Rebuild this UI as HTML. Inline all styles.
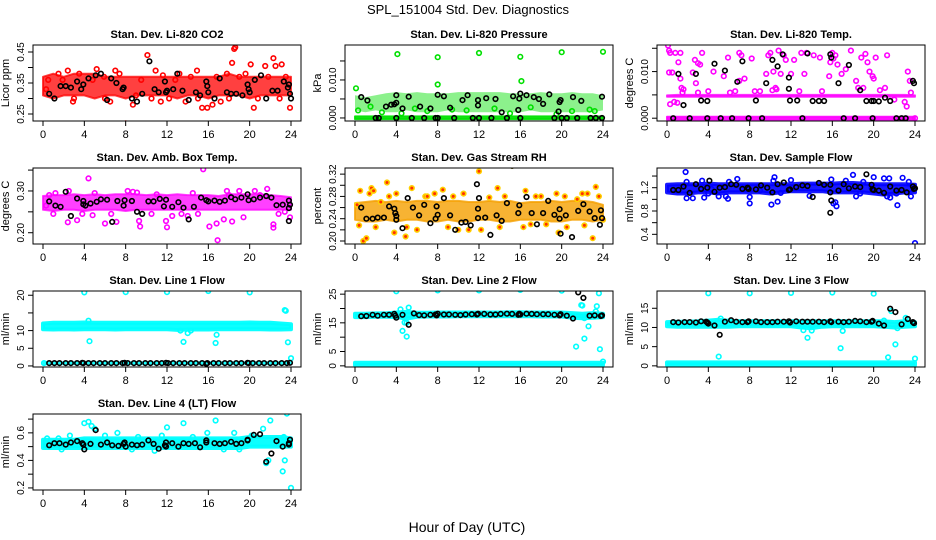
<!DOCTYPE html>
<html><head><meta charset="utf-8"><title>SPL_151004 Std. Dev. Diagnostics</title>
<style>
html,body{margin:0;padding:0;background:#fff;}
svg{display:block;font-family:"Liberation Sans",sans-serif;}
</style></head>
<body>
<svg id="chart" width="936" height="540" viewBox="0 0 936 540" xmlns="http://www.w3.org/2000/svg">
<text x="468" y="14" font-size="13" text-anchor="middle">SPL_151004  Std. Dev. Diagnostics</text>
<text x="467" y="532" font-size="14" text-anchor="middle">Hour of Day (UTC)</text>
</svg>
<script>
const HOURS=[0,1,2,3,4,5,6,7,8,9,10,11,12,13,14,15,16,17,18,19,20,21,22,23,24];
const X_TICKS=[0,4,8,12,16,20,24];

// Panel 1: CO2
const co2_band_lo=[0.31,0.30,0.31,0.31,0.31,0.30,0.31,0.31,0.30,0.31,0.31,0.31,0.31,0.30,0.31,0.31,0.30,0.31,0.31,0.31,0.30,0.31,0.31,0.31,0.31];
const co2_band_hi=[0.37,0.38,0.37,0.38,0.38,0.38,0.37,0.37,0.37,0.37,0.37,0.37,0.37,0.37,0.37,0.37,0.37,0.37,0.38,0.37,0.37,0.37,0.37,0.37,0.37];
const co2_red=[[1.5,0.38],[1.9,0.36],[2.4,0.39],[3.5,0.38],[5.2,0.395],[7.4,0.38],[8.0,0.22],[8.7,0.28],[10.1,0.44],[10.9,0.39],[11.4,0.29],[14.9,0.39],[15.4,0.27],[15.9,0.27],[16.4,0.28],[17.8,0.38],[18.3,0.415],[18.5,0.46],[18.6,0.465],[19.6,0.38],[20.1,0.41],[20.4,0.27],[21.5,0.405],[22.3,0.43],[22.5,0.405],[23.1,0.41],[23.9,0.27],[0.3,0.33],[6.5,0.29],[9.0,0.31],[12.8,0.36],[13.8,0.29],[17.2,0.29],[19.0,0.37],[21.8,0.37],[2.9,0.29],[4.8,0.36],[5.9,0.37],[11.6,0.375],[14.3,0.37],[0.5,0.36],[3.0,0.30],[6.0,0.30],[7.0,0.39],[9.5,0.36],[10.5,0.30],[12.2,0.30],[13.2,0.38],[15.0,0.30],[16.8,0.37],[18.0,0.30],[20.8,0.30],[22.9,0.30],[23.5,0.37]];
const co2_black=[[0.6,0.315],[1.1,0.30],[1.7,0.34],[2.2,0.34],[2.7,0.335],[3.3,0.355],[3.7,0.33],[3.9,0.345],[4.4,0.365],[5.1,0.375],[5.6,0.38],[6.2,0.295],[6.6,0.365],[7.1,0.35],[7.7,0.33],[7.8,0.335],[8.6,0.30],[9.1,0.29],[9.6,0.315],[10.3,0.42],[10.8,0.33],[11.2,0.32],[11.8,0.355],[11.9,0.32],[12.0,0.325],[12.6,0.33],[13.0,0.38],[13.5,0.325],[14.1,0.295],[14.8,0.32],[15.2,0.31],[15.8,0.355],[15.9,0.34],[16.0,0.32],[16.6,0.30],[17.1,0.365],[17.8,0.32],[18.2,0.315],[18.7,0.315],[19.3,0.31],[19.8,0.345],[19.9,0.33],[20.0,0.32],[20.5,0.36],[21.1,0.375],[21.6,0.30],[22.2,0.325],[22.7,0.325],[23.3,0.355],[23.7,0.335],[23.8,0.345],[23.9,0.315],[24.0,0.30]];

// Panel 2: Pressure
const prs_band0_lo=[-0.0003,-0.0003,-0.0003,-0.0003,-0.0003,-0.0003,-0.0003,-0.0003,-0.0003,-0.0003,-0.0003,-0.0003,-0.0003,-0.0003,-0.0003,-0.0003,-0.0003,-0.0003,-0.0003,-0.0003,-0.0003,-0.0003,-0.0003,-0.0003,-0.0003];
const prs_band0_hi=[0.0004,0.0004,0.0004,0.0004,0.0004,0.0004,0.0004,0.0004,0.0004,0.0004,0.0004,0.0004,0.0004,0.0004,0.0004,0.0004,0.0004,0.0004,0.0004,0.0004,0.0004,0.0004,0.0004,0.0004,0.0004];
const prs_band_lo=[0.0020,0.0015,0.0020,0.0015,0.0015,0.0020,0.0015,0.0015,0.0015,0.0020,0.0015,0.0015,0.0015,0.0015,0.0015,0.0015,0.0015,0.0020,0.0015,0.0015,0.0015,0.0015,0.0015,0.0015,0.0020];
const prs_band_hi=[0.0060,0.0055,0.0060,0.0065,0.0068,0.0065,0.0068,0.0065,0.0065,0.0065,0.0068,0.0068,0.0068,0.0068,0.0068,0.0065,0.0065,0.0065,0.0068,0.0065,0.0065,0.0068,0.0065,0.0065,0.0060];
const prs_green=[[4.1,0.0168],[8.0,0.0160],[12.0,0.0171],[16.0,0.0161],[20.0,0.0173],[24.0,0.0174],[0.1,0.0078],[8.0,0.0088],[16.1,0.0097],[0.3,0.0020],[1.5,0.0030],[2.6,0.0015],[4.5,0.0012],[5.8,0.0025],[7.0,0.0018],[9.4,0.0022],[10.8,0.0020],[13.5,0.0025],[15.0,0.0012],[17.0,0.0028],[19.5,0.0010],[21.0,0.0018],[22.7,0.0022],[23.2,0.0018]];
const prs_black=[[0.6,0.0055],[1.2,0.0046],[2.0,0.0],[2.3,0.0],[3.0,0.0030],[3.5,0.0035],[3.8,0.0036],[4.0,0.0040],[4.0,0.0060],[4.0,0.0],[4.6,0.0025],[5.2,0.0056],[5.5,0.0],[6.3,0.0030],[6.7,0.0],[7.3,0.0025],[7.8,0.0],[8.0,0.0],[8.0,0.0061],[8.6,0.0057],[9.2,0.0027],[9.6,0.0],[10.4,0.0047],[10.9,0.0060],[11.4,0.0],[11.9,0.0047],[11.9,0.0033],[12.0,0.0],[12.7,0.0052],[13.2,0.0],[13.6,0.0050],[14.2,0.0015],[14.7,0.0],[15.3,0.0057],[15.8,0.0021],[16.0,0.0064],[15.9,0.0051],[16.0,0.0],[16.6,0.0060],[17.3,0.0055],[17.8,0.0050],[18.2,0.0037],[18.8,0.0062],[19.3,0.0],[19.7,0.0017],[19.8,0.0042],[19.9,0.0047],[20.0,0.0],[20.5,0.0],[21.1,0.0055],[21.5,0.0],[21.9,0.0045],[22.8,0.0],[23.3,0.0],[23.9,0.0],[23.9,0.0056]];

// Panel 3: Li-820 Temp
const tmp_band0_lo=[-0.0003,-0.0003,-0.0003,-0.0003,-0.0003,-0.0003,-0.0003,-0.0003,-0.0003,-0.0003,-0.0003,-0.0003,-0.0003,-0.0003,-0.0003,-0.0003,-0.0003,-0.0003,-0.0003,-0.0003,-0.0003,-0.0003,-0.0003,-0.0003,-0.0003];
const tmp_band0_hi=[0.0003,0.0003,0.0003,0.0003,0.0003,0.0003,0.0003,0.0003,0.0003,0.0003,0.0003,0.0003,0.0003,0.0003,0.0003,0.0003,0.0003,0.0003,0.0003,0.0003,0.0003,0.0003,0.0003,0.0003,0.0003];
const tmp_band_lo=[0.0046,0.0046,0.0046,0.0046,0.0046,0.0046,0.0046,0.0046,0.0046,0.0046,0.0046,0.0046,0.0046,0.0046,0.0046,0.0046,0.0046,0.0046,0.0046,0.0046,0.0046,0.0046,0.0046,0.0046,0.0046];
const tmp_band_hi=[0.0049,0.0050,0.0050,0.0050,0.0050,0.0050,0.0050,0.0050,0.0050,0.0050,0.0050,0.0050,0.0050,0.0050,0.0050,0.0050,0.0050,0.0050,0.0050,0.0050,0.0050,0.0050,0.0050,0.0050,0.0049];
const tmp_mag=[[0.1,0.0156],[0.2,0.0145],[0.3,0.0140],[0.2,0.0098],[0.5,0.0098],[0.8,0.0140],[1.3,0.0140],[1.1,0.0120],[1.3,0.0085],[1.4,0.0065],[1.6,0.0062],[1.5,0.0055],[2.5,0.0098],[2.8,0.0075],[2.7,0.0125],[3.0,0.0118],[3.2,0.0115],[3.4,0.0140],[3.0,0.0055],[4.0,0.0058],[4.5,0.0100],[5.5,0.0090],[5.9,0.0130],[6.1,0.0055],[6.6,0.0058],[7.0,0.0140],[7.2,0.0135],[7.0,0.0080],[7.5,0.0085],[8.2,0.0128],[8.5,0.0058],[9.0,0.0058],[9.6,0.0095],[9.8,0.0135],[10.0,0.0140],[10.3,0.0100],[10.5,0.0065],[10.8,0.0145],[11.0,0.0095],[11.5,0.0125],[12.0,0.0095],[12.3,0.0125],[12.8,0.0058],[13.3,0.0095],[13.5,0.0140],[14.2,0.0135],[14.8,0.0130],[15.0,0.0058],[15.7,0.0090],[16.3,0.0135],[16.5,0.0115],[16.9,0.0095],[17.3,0.0105],[17.8,0.0145],[18.3,0.0080],[18.8,0.0130],[19.2,0.0138],[19.4,0.0120],[19.6,0.0100],[19.9,0.0090],[20.2,0.0130],[20.6,0.0060],[21.1,0.0065],[21.3,0.0135],[22.0,0.0040],[23.0,0.0035],[23.3,0.0100],[23.5,0.0080],[23.6,0.0055],[23.2,0.0025],[24.0,0.0],[0.3,0.0030],[0.7,0.0035],[1.0,0.0033],[10.2,0.0060],[10.6,0.0062],[11.3,0.0135],[13.0,0.0140],[15.8,0.0120],[16.0,0.0140],[16.1,0.0128],[19.0,0.0065],[18.5,0.0065],[20.0,0.0085]];
const tmp_black=[[0.6,0.0],[1.1,0.0095],[1.6,0.0028],[2.2,0.0],[2.8,0.0095],[3.3,0.0038],[3.9,0.0037],[3.9,0.0],[4.6,0.0117],[5.2,0.0],[5.6,0.0102],[6.3,0.0],[6.8,0.0078],[7.3,0.0122],[7.9,0.0],[8.6,0.0038],[9.2,0.0],[9.6,0.0075],[10.2,0.0125],[10.7,0.0111],[11.2,0.0137],[11.8,0.0087],[11.8,0.0063],[11.9,0.0038],[12.6,0.0038],[13.1,0.0],[13.6,0.0139],[14.1,0.0037],[14.7,0.0037],[15.2,0.0037],[15.8,0.0137],[15.9,0.0130],[16.6,0.0075],[17.1,0.0],[17.6,0.0114],[18.2,0.0],[18.7,0.0060],[19.3,0.0037],[19.8,0.0037],[19.9,0.0],[20.0,0.0037],[20.5,0.0036],[21.1,0.0044],[21.6,0.0037],[22.2,0.0],[22.7,0.0],[23.1,0.0],[23.8,0.0080],[23.9,0.0075]];

// Panel 4: Amb Box Temp
const amb_band_lo=[0.255,0.252,0.255,0.255,0.252,0.255,0.255,0.255,0.252,0.255,0.255,0.255,0.255,0.255,0.255,0.255,0.255,0.255,0.255,0.255,0.255,0.255,0.255,0.255,0.255];
const amb_band_hi=[0.288,0.290,0.290,0.292,0.290,0.292,0.290,0.292,0.292,0.292,0.290,0.292,0.290,0.292,0.290,0.290,0.290,0.288,0.292,0.292,0.292,0.292,0.290,0.288,0.285];
const amb_mag=[[4.4,0.330],[15.5,0.352],[16.9,0.182],[21.7,0.305],[2.5,0.30],[0.6,0.29],[1.2,0.295],[5.0,0.295],[9.1,0.296],[9.4,0.215],[9.3,0.228],[6.0,0.222],[7.1,0.226],[11.9,0.228],[12.0,0.213],[16.1,0.215],[16.8,0.222],[17.5,0.232],[18.3,0.227],[22.3,0.220],[22.3,0.212],[23.9,0.237],[2.4,0.225],[3.3,0.230],[14.0,0.240],[15.0,0.245],[19.4,0.237],[20.5,0.300],[1.0,0.245],[4.8,0.242],[10.5,0.245],[12.5,0.24],[13.4,0.245],[17.8,0.30],[18.0,0.29],[21.0,0.29],[11.0,0.292],[8.7,0.298],[0.3,0.265],[3.8,0.245],[6.6,0.245],[8.2,0.30],[14.5,0.295],[19.0,0.30],[22.8,0.245],[23.4,0.25]];
const amb_black=[[0.6,0.275],[1.2,0.265],[1.7,0.262],[2.2,0.298],[2.7,0.24],[3.3,0.282],[3.9,0.276],[3.9,0.268],[4.1,0.265],[4.6,0.27],[5.2,0.274],[5.6,0.28],[6.2,0.279],[6.7,0.226],[7.2,0.276],[7.8,0.265],[7.9,0.278],[8.6,0.276],[9.1,0.25],[9.6,0.245],[10.2,0.275],[10.7,0.275],[11.3,0.281],[11.7,0.263],[11.9,0.279],[12.5,0.262],[13.1,0.273],[13.6,0.26],[14.1,0.232],[14.6,0.262],[15.3,0.284],[15.8,0.278],[16.0,0.275],[16.6,0.277],[17.1,0.274],[17.6,0.277],[18.2,0.285],[18.6,0.28],[19.2,0.284],[19.8,0.292],[19.9,0.278],[20.4,0.28],[21.0,0.284],[21.6,0.288],[22.1,0.284],[22.6,0.266],[23.2,0.267],[23.8,0.277],[23.8,0.259],[23.9,0.267],[23.8,0.228]];

// Panel 5: Gas Stream RH
const rh_band_lo=[0.238,0.235,0.235,0.238,0.235,0.238,0.238,0.235,0.235,0.238,0.235,0.235,0.238,0.238,0.235,0.235,0.238,0.238,0.238,0.235,0.235,0.238,0.238,0.235,0.238];
const rh_band_hi=[0.268,0.270,0.272,0.270,0.272,0.270,0.272,0.272,0.270,0.272,0.272,0.270,0.270,0.272,0.270,0.272,0.268,0.270,0.270,0.272,0.270,0.272,0.272,0.270,0.265];
const rh_pts=[[0.2,0.265],[0.5,0.29],[0.8,0.20],[1.1,0.205],[1.4,0.285],[1.6,0.295],[1.8,0.29],[3.1,0.305],[3.3,0.280],[3.8,0.215],[4.0,0.285],[4.9,0.208],[5.5,0.295],[6.8,0.28],[7.7,0.285],[8.5,0.292],[9.5,0.28],[10.0,0.22],[10.5,0.285],[11.0,0.22],[12.0,0.325],[13.0,0.278],[13.8,0.295],[14.5,0.28],[15.2,0.335],[16.5,0.29],[17.5,0.28],[18.0,0.28],[19.5,0.285],[19.7,0.215],[20.3,0.28],[21.5,0.275],[22.0,0.285],[22.5,0.285],[23.0,0.205],[23.3,0.297],[23.6,0.28],[24.0,0.238],[2.5,0.27],[6.0,0.22],[12.2,0.22],[16.3,0.225],[18.5,0.23],[0.4,0.228],[2.0,0.225],[5.0,0.225],[7.0,0.28],[9.0,0.225],[14.0,0.225],[17.0,0.23],[20.5,0.225],[22.2,0.228]];
const rh_black=[[0.6,0.26],[1.1,0.24],[1.7,0.24],[2.2,0.242],[2.8,0.242],[3.3,0.262],[3.8,0.258],[3.9,0.25],[4.0,0.238],[4.0,0.245],[4.6,0.223],[5.1,0.277],[5.6,0.26],[6.2,0.246],[6.7,0.265],[7.3,0.232],[7.8,0.24],[7.9,0.262],[8.0,0.247],[8.6,0.277],[9.2,0.246],[9.7,0.22],[10.3,0.233],[10.7,0.234],[11.2,0.228],[11.8,0.302],[11.9,0.241],[11.9,0.258],[12.0,0.277],[12.6,0.242],[13.1,0.211],[13.7,0.246],[14.2,0.236],[14.7,0.268],[15.2,0.335],[15.8,0.25],[15.9,0.264],[16.6,0.279],[17.1,0.25],[17.6,0.23],[18.2,0.25],[18.7,0.272],[19.3,0.247],[19.8,0.24],[19.8,0.257],[19.9,0.213],[20.4,0.246],[21.0,0.207],[21.6,0.254],[22.1,0.266],[22.7,0.253],[23.2,0.241],[23.7,0.229],[23.8,0.255],[23.9,0.241]];

// Panel 6: Sample Flow
const smp_band_lo=[1.12,1.10,1.10,1.12,1.12,1.10,1.12,1.12,1.12,1.12,1.10,1.12,1.14,1.14,1.14,1.14,1.12,1.12,1.12,1.12,1.10,1.08,1.10,1.12,1.12];
const smp_band_hi=[1.25,1.26,1.26,1.26,1.27,1.26,1.26,1.26,1.26,1.26,1.26,1.26,1.26,1.27,1.27,1.27,1.27,1.28,1.28,1.27,1.26,1.26,1.26,1.26,1.25];
const smp_blue=[[1.8,1.47],[1.9,1.30],[1.9,1.02],[2.5,1.02],[3.4,1.32],[3.6,1.03],[4.0,1.10],[4.3,1.18],[5.0,1.05],[5.7,1.05],[5.9,1.01],[6.0,1.30],[6.8,1.35],[8.0,1.04],[8.0,0.93],[9.0,1.15],[10.1,0.91],[10.3,1.32],[10.4,1.38],[10.7,0.96],[11.0,1.11],[12.0,1.33],[13.8,1.06],[15.9,1.34],[16.3,0.95],[16.4,0.88],[17.3,1.32],[18.0,1.42],[18.3,1.05],[18.7,1.10],[19.0,1.30],[19.8,1.20],[20.0,1.38],[21.0,1.36],[21.3,1.05],[21.5,1.36],[22.2,1.10],[22.3,0.90],[22.8,1.37],[23.6,1.05],[24.0,0.25],[23.4,1.30],[16.1,0.93],[21.6,1.03]];
const smp_black=[[0.6,1.16],[1.1,1.16],[1.6,1.22],[2.2,1.11],[2.8,1.26],[3.3,1.18],[3.9,1.20],[4.1,1.32],[4.6,1.13],[5.1,1.20],[5.6,1.21],[6.2,1.26],[6.7,1.25],[7.3,1.18],[7.8,1.20],[7.9,1.18],[8.6,1.17],[9.1,1.24],[9.7,1.20],[10.2,1.12],[10.7,1.26],[11.3,1.29],[11.8,1.16],[11.9,1.17],[12.5,1.21],[13.1,1.24],[13.6,1.23],[14.1,1.04],[14.7,1.28],[15.2,1.25],[15.8,1.25],[15.8,1.12],[15.9,0.98],[15.8,0.77],[16.6,1.15],[17.1,1.26],[17.6,1.19],[18.2,1.22],[18.7,1.21],[19.3,1.43],[19.8,1.25],[19.9,1.17],[20.0,1.16],[20.5,1.15],[21.0,1.11],[21.6,1.22],[22.2,1.15],[22.7,1.16],[23.2,1.12],[23.8,1.22],[23.9,1.18],[24.0,1.19]];

// Panel 7: Line 1 Flow
const l1_band_lo=[10.4,10.3,10.4,10.3,10.4,10.4,10.4,10.3,10.4,10.4,10.4,10.4,10.4,10.2,10.3,10.3,10.3,10.4,10.4,10.4,10.4,10.4,10.3,10.3,10.4];
const l1_band_hi=[12.0,12.2,12.2,12.2,12.3,12.2,12.2,12.2,12.2,12.2,12.2,12.2,12.2,12.2,12.2,12.2,12.2,12.2,12.2,12.2,12.3,12.2,12.2,12.0,11.8];
const l1_band0_lo=[0.5,0.5,0.5,0.5,0.5,0.5,0.5,0.5,0.5,0.5,0.5,0.5,0.5,0.5,0.5,0.5,0.5,0.5,0.5,0.5,0.5,0.5,0.5,0.5,0.5];
const l1_band0_hi=[1.1,1.1,1.1,1.1,1.1,1.1,1.1,1.1,1.1,1.1,1.1,1.1,1.1,1.1,1.1,1.1,1.1,1.1,1.1,1.1,1.1,1.1,1.1,1.1,1.1];
const l1_cyan=[[4.0,20.8],[8.0,20.9],[12.0,20.9],[16.0,21.2],[20.0,20.8],[23.4,15.8],[23.5,15.6],[4.4,12.8],[4.5,7.0],[13.6,6.8],[14.0,9.3],[14.3,10.0],[16.7,6.5],[16.8,8.8],[23.7,6.7],[24.0,2.2],[0.1,0.8],[13.3,10.0]];
const l1_black=[[0.6,0.8],[1.1,0.8],[1.6,0.8],[2.2,0.8],[2.7,0.8],[3.3,0.8],[3.8,0.9],[3.9,0.8],[4.4,0.8],[4.9,0.8],[5.5,0.8],[6.0,0.8],[6.6,0.8],[7.1,0.8],[7.7,0.8],[7.9,0.9],[8.2,0.8],[8.8,0.8],[9.3,0.8],[9.9,0.8],[10.4,0.8],[11.0,0.8],[11.5,0.8],[11.9,0.9],[12.1,0.8],[12.6,0.8],[13.2,0.8],[13.7,0.8],[14.3,0.8],[14.8,0.8],[15.4,0.8],[15.8,0.6],[15.9,0.8],[16.5,0.8],[17.0,0.8],[17.6,0.8],[18.1,0.8],[18.7,0.8],[19.2,0.8],[19.8,0.9],[19.9,0.8],[20.3,0.8],[20.9,0.8],[21.4,0.8],[22.0,0.8],[22.5,0.8],[23.1,0.8],[23.6,0.8],[23.9,0.9]];

// Panel 8: Line 2 Flow
const l2_band_lo=[17.0,17.0,17.1,17.1,17.0,16.5,17.1,17.2,17.2,17.2,17.3,17.3,17.3,17.3,17.3,17.3,17.3,17.3,17.2,17.2,17.2,16.8,16.6,16.8,17.0];
const l2_band_hi=[18.2,18.2,18.3,18.3,18.6,18.8,18.5,18.5,18.6,18.6,18.6,18.6,18.6,18.6,18.6,18.7,18.7,18.6,18.6,18.6,18.6,18.4,18.2,18.4,18.2];
const l2_band0_lo=[0.3,0.3,0.3,0.3,0.3,0.3,0.3,0.3,0.3,0.3,0.3,0.3,0.3,0.3,0.3,0.3,0.3,0.3,0.3,0.3,0.3,0.3,0.3,0.3,0.3];
const l2_band0_hi=[1.1,1.1,1.1,1.1,1.1,1.1,1.1,1.1,1.1,1.1,1.1,1.1,1.1,1.1,1.1,1.1,1.1,1.1,1.1,1.1,1.1,1.1,1.1,1.1,1.1];
const l2_cyan=[[4.0,26.0],[8.0,26.3],[12.0,26.3],[16.0,26.5],[20.0,26.2],[23.6,25.3],[4.4,19.7],[4.6,12.2],[4.8,15.1],[5.0,10.2],[5.2,20.3],[5.0,15.0],[21.4,6.7],[21.9,21.2],[22.2,9.5],[22.6,13.8],[23.4,20.8],[23.7,5.8],[24.0,1.5],[23.0,17.8],[22.2,16.6],[22.0,21.0],[23.3,19.0]];
const l2_black=[[0.6,17.3],[1.1,17.4],[1.7,17.8],[2.2,17.5],[2.8,17.8],[3.3,17.8],[3.8,18.1],[3.9,17.5],[4.0,16.8],[4.6,17.8],[5.2,14.3],[5.7,18.3],[6.2,17.7],[6.7,17.6],[7.3,17.8],[7.8,17.9],[7.9,17.6],[8.0,18.2],[8.6,17.9],[9.1,17.9],[9.7,17.8],[10.2,17.7],[10.7,17.9],[11.3,18.0],[11.8,17.9],[11.9,18.2],[12.5,18.1],[13.1,17.9],[13.6,17.9],[14.1,18.1],[14.7,18.2],[15.2,18.1],[15.8,17.8],[15.9,18.2],[16.0,17.9],[16.6,18.2],[17.1,18.1],[17.6,18.0],[18.2,18.0],[18.7,18.0],[19.3,17.8],[19.8,17.6],[19.9,18.0],[20.5,17.5],[21.1,16.5],[21.6,25.6],[22.1,23.7],[22.7,17.5],[23.2,17.6],[23.8,17.4],[23.9,17.6]];

// Panel 9: Line 3 Flow
const l3_band_lo=[10.3,10.2,10.2,10.2,10.2,10.2,10.2,10.3,10.3,10.3,10.3,10.3,10.3,10.0,9.8,10.2,10.3,10.3,10.3,10.3,10.3,10.2,10.0,10.2,10.3];
const l3_band_hi=[11.4,11.5,11.5,11.6,11.8,12.0,11.7,11.6,11.6,11.6,11.6,11.6,11.6,11.6,11.6,11.6,11.6,11.6,11.6,11.6,11.6,11.6,11.4,11.6,11.4];
const l3_band0_lo=[0.2,0.2,0.2,0.2,0.2,0.2,0.2,0.2,0.2,0.2,0.2,0.2,0.2,0.2,0.2,0.2,0.2,0.2,0.2,0.2,0.2,0.2,0.2,0.2,0.2];
const l3_band0_hi=[0.9,0.9,0.9,0.9,0.9,0.9,0.9,0.9,0.9,0.9,0.9,0.9,0.9,0.9,0.9,0.9,0.9,0.9,0.9,0.9,0.9,0.9,0.9,0.9,0.9];
const l3_cyan=[[4.0,18.9],[8.0,18.9],[12.0,19.0],[16.0,19.1],[20.0,18.8],[5.0,2.4],[13.2,9.3],[13.6,7.3],[14.0,9.2],[16.8,4.6],[17.0,9.1],[21.4,2.2],[21.7,14.3],[22.1,5.6],[23.1,12.5],[24.0,1.9],[21.0,11.8],[22.3,9.8],[5.2,12.3],[16.0,0.0]];
const l3_black=[[0.6,11.4],[1.1,11.3],[1.7,11.4],[2.2,11.4],[2.8,11.3],[3.3,11.6],[3.8,11.5],[3.9,11.3],[4.0,11.0],[4.6,10.5],[5.1,8.1],[5.6,11.5],[6.2,11.9],[6.7,11.5],[7.3,11.4],[7.8,11.4],[7.9,11.6],[8.6,11.6],[9.1,11.4],[9.7,11.4],[10.2,11.4],[10.7,11.5],[11.3,11.5],[11.8,11.6],[11.9,11.3],[12.5,11.6],[13.1,11.5],[13.6,11.5],[14.1,11.5],[14.7,11.5],[15.2,11.4],[15.8,11.6],[15.9,11.4],[16.6,11.5],[17.1,11.4],[17.6,11.5],[18.2,11.7],[18.7,11.6],[19.3,11.4],[19.8,11.5],[19.9,11.7],[20.5,11.0],[21.0,10.5],[21.6,14.9],[22.1,14.0],[22.7,10.8],[23.3,12.2],[23.8,11.4],[23.9,11.1]];

// Panel 10: Line 4 (LT) Flow
const l4_band_lo=[0.49,0.49,0.49,0.49,0.49,0.49,0.49,0.49,0.49,0.49,0.49,0.49,0.49,0.49,0.49,0.49,0.49,0.49,0.49,0.49,0.50,0.50,0.50,0.50,0.50];
const l4_band_hi=[0.55,0.55,0.55,0.55,0.56,0.56,0.56,0.56,0.56,0.56,0.56,0.56,0.56,0.56,0.56,0.56,0.56,0.56,0.56,0.56,0.57,0.57,0.57,0.57,0.56];
const l4_cyan=[[0.4,0.56],[1.5,0.56],[2.6,0.58],[4.0,0.67],[4.4,0.68],[4.7,0.65],[5.0,0.63],[7.2,0.60],[8.6,0.48],[10.8,0.47],[12.0,0.64],[13.6,0.67],[16.7,0.69],[15.9,0.60],[18.5,0.60],[20.2,0.58],[21.3,0.63],[21.6,0.38],[21.8,0.40],[22.0,0.69],[23.2,0.32],[23.4,0.40],[23.6,0.74],[24.0,0.20],[23.3,0.57],[14.5,0.57],[9.2,0.57],[1.8,0.48],[6.0,0.58],[11.5,0.58],[17.5,0.48],[19.0,0.48]];
const l4_black=[[0.6,0.51],[1.1,0.525],[1.6,0.525],[2.2,0.515],[2.7,0.53],[3.3,0.54],[3.8,0.525],[3.9,0.515],[4.0,0.48],[4.6,0.52],[5.1,0.62],[5.6,0.515],[6.2,0.53],[6.7,0.51],[7.3,0.505],[7.8,0.52],[7.9,0.53],[8.0,0.50],[8.6,0.515],[9.1,0.51],[9.6,0.515],[10.2,0.545],[10.7,0.52],[11.2,0.485],[11.8,0.51],[11.9,0.53],[11.9,0.50],[12.5,0.525],[13.1,0.50],[13.6,0.525],[14.1,0.52],[14.7,0.525],[15.2,0.495],[15.8,0.53],[15.8,0.545],[16.6,0.525],[17.1,0.52],[17.6,0.525],[18.2,0.535],[18.7,0.52],[19.2,0.525],[19.8,0.545],[19.8,0.55],[20.4,0.585],[21.0,0.59],[21.6,0.39],[22.1,0.45],[22.6,0.54],[23.2,0.50],[23.8,0.515],[23.9,0.55],[23.8,0.525]];

// Y-axis tick arrays
const co2_ticks=[0.25,0.30,0.35,0.40,0.45], co2_labels=["0.25","","0.35","","0.45"];
const prs_ticks=[0,0.005,0.010,0.015], prs_labels=["0.000","","0.010",""];
const tmp_ticks=[0,0.005,0.010,0.015], tmp_labels=["0.000","","0.010",""];
const amb_ticks=[0.20,0.25,0.30,0.35], amb_labels=["0.20","","0.30",""];
const rh_ticks=[0.20,0.22,0.24,0.26,0.28,0.30,0.32], rh_labels=["0.20","","0.24","","0.28","","0.32"];
const smp_ticks=[0.4,0.6,0.8,1.0,1.2,1.4], smp_labels=["0.4","","0.8","","1.2",""];
const l1_ticks=[0,5,10,15,20], l1_labels=["0","5","10","","20"];
const l2_ticks=[0,5,10,15,20,25], l2_labels=["0","5","","15","","25"];
const l3_ticks=[0,5,10,15], l3_labels=["0","5","10","15"];
const l4_ticks=[0.2,0.3,0.4,0.5,0.6,0.7], l4_labels=["0.2","","0.4","","0.6",""];

const NS="http://www.w3.org/2000/svg";
const svg=document.getElementById('chart');
const COLS=[33,345,657], ROWS=[45,168,291,414], BW=268, BH=76;

function mk(tag,attrs,parent){const e=document.createElementNS(NS,tag);for(const k in attrs)e.setAttribute(k,attrs[k]);(parent||svg).appendChild(e);return e;}

function panel(slug,col,row,title,ylab,ymin,ymax,ticks,labels,bands,series){
  const L=COLS[col],T=ROWS[row];
  const g=mk('g',{});
  
  
  const sx=h=>L+10+h/24*(BW-20);
  const sy=v=>T+BH-(v-ymin)/(ymax-ymin)*BH;
  const clip=mk('clipPath',{id:'clip-'+slug},g);
  mk('rect',{x:L,y:T,width:BW,height:BH},clip);
  const data=mk('g',{'clip-path':'url(#clip-'+slug+')'},g);
  
  
  bands.forEach(b=>{
    let pts=[];
    HOURS.forEach((h,i)=>pts.push(sx(h).toFixed(1)+','+sy(b.hi[i]).toFixed(1)));
    for(let i=HOURS.length-1;i>=0;i--)pts.push(sx(HOURS[i]).toFixed(1)+','+sy(b.lo[i]).toFixed(1));
    const op=b.op||0.9;
    const p=mk('polygon',{points:pts.join(' '),fill:b.color,'fill-opacity':op,stroke:b.color,'stroke-width':b.sw||0,'stroke-linejoin':'round','stroke-opacity':op},data);
    
    
  });
  series.forEach(s=>{
    s.pts.forEach(pt=>{
      const c=mk('circle',{cx:sx(pt[0]).toFixed(1),cy:sy(pt[1]).toFixed(1),r:2.3,fill:s.fill||'none',stroke:s.color,'stroke-width':1.6},data);
      
      
    });
  });
  const box=mk('rect',{x:L,y:T,width:BW,height:BH,fill:'none',stroke:'#000','stroke-width':1},g);
  
  
  const tt=mk('text',{x:L+BW/2,y:T-7,'font-size':11,'font-weight':'bold','text-anchor':'middle'},g);
  tt.textContent=title;
  
  
  const xa=mk('g',{},g);
  
  
  mk('line',{x1:sx(0),x2:sx(24),y1:T+BH,y2:T+BH,stroke:'#000'},xa);
  X_TICKS.forEach(t=>{
    mk('line',{x1:sx(t),x2:sx(t),y1:T+BH,y2:T+BH+5,stroke:'#000'},xa);
    const lt=mk('text',{x:sx(t),y:T+BH+17,'font-size':11,'text-anchor':'middle'},xa);
    lt.textContent=String(t);
    
    
  });
  const ya=mk('g',{},g);
  
  
  mk('line',{x1:L,x2:L,y1:sy(ticks[0]),y2:sy(ticks[ticks.length-1]),stroke:'#000'},ya);
  ticks.forEach((t,i)=>{
    const y=sy(t);
    mk('line',{x1:L-5,x2:L,y1:y,y2:y,stroke:'#000'},ya);
    if(labels[i]){
      const lt=mk('text',{x:L-9,y:y,'font-size':10,'text-anchor':'middle',transform:'rotate(-90 '+(L-9)+' '+y+')'},ya);
      lt.textContent=labels[i];
      
      
    }
  });
  const yl=mk('text',{x:L-24,y:T+BH/2,'font-size':11,'text-anchor':'middle',transform:'rotate(-90 '+(L-24)+' '+(T+BH/2)+')'},g);
  yl.textContent=ylab;
  
  
}

const RED='#ff0000',GREEN='#00e000',MAG='#ff00ff',BLUE='#0000ff',CYAN='#00ffff',BLK='#000000';
panel('co2',0,0,'Stan. Dev. Li-820 CO2','Licor ppm',0.2274,0.4726,co2_ticks,co2_labels,
  [{lo:co2_band_lo,hi:co2_band_hi,color:RED,op:0.75,sw:2}],
  [{name:'red',pts:co2_red,color:RED},{name:'black',pts:co2_black,color:BLK}]);
panel('pressure',1,0,'Stan. Dev. Li-820 Pressure','kPa',-0.0008,0.0192,prs_ticks,prs_labels,
  [{lo:prs_band0_lo,hi:prs_band0_hi,color:GREEN,sw:2},{lo:prs_band_lo,hi:prs_band_hi,color:GREEN,op:0.45}],
  [{name:'green',pts:prs_green,color:GREEN},{name:'black',pts:prs_black,color:BLK}]);
panel('li820-temp',2,0,'Stan. Dev. Li-820 Temp.','degrees C',-0.0006,0.0157,tmp_ticks,tmp_labels,
  [{lo:tmp_band0_lo,hi:tmp_band0_hi,color:MAG,sw:2},{lo:tmp_band_lo,hi:tmp_band_hi,color:MAG,op:0.8,sw:2}],
  [{name:'magenta',pts:tmp_mag,color:MAG},{name:'black',pts:tmp_black,color:BLK}]);
panel('amb-box-temp',0,1,'Stan. Dev. Amb. Box Temp.','degrees C',0.173,0.355,amb_ticks,amb_labels,
  [{lo:amb_band_lo,hi:amb_band_hi,color:MAG,op:0.75,sw:2}],
  [{name:'magenta',pts:amb_mag,color:MAG},{name:'black',pts:amb_black,color:BLK}]);
panel('gas-rh',1,1,'Stan. Dev. Gas Stream RH','percent',0.1946,0.331,rh_ticks,rh_labels,
  [{lo:rh_band_lo,hi:rh_band_hi,color:'#f5a000',op:0.8,sw:2}],
  [{name:'orange',pts:rh_pts,color:'#ffd000',fill:'#ff3000'},{name:'black',pts:rh_black,color:BLK}]);
panel('sample-flow',2,1,'Stan. Dev. Sample Flow','ml/min',0.234,1.538,smp_ticks,smp_labels,
  [{lo:smp_band_lo,hi:smp_band_hi,color:BLUE,op:0.9,sw:4}],
  [{name:'blue',pts:smp_blue,color:BLUE},{name:'black',pts:smp_black,color:BLK}]);
panel('line1-flow',0,2,'Stan. Dev. Line 1 Flow','ml/min',-0.3,21.2,l1_ticks,l1_labels,
  [{lo:l1_band_lo,hi:l1_band_hi,color:CYAN,op:0.95,sw:4},{lo:l1_band0_lo,hi:l1_band0_hi,color:CYAN,op:0.7,sw:2}],
  [{name:'cyan',pts:l1_cyan,color:CYAN},{name:'black',pts:l1_black,color:BLK}]);
panel('line2-flow',1,2,'Stan. Dev. Line 2 Flow','ml/min',-0.4,26.1,l2_ticks,l2_labels,
  [{lo:l2_band_lo,hi:l2_band_hi,color:CYAN,op:0.95,sw:4},{lo:l2_band0_lo,hi:l2_band0_hi,color:CYAN,op:0.95,sw:4}],
  [{name:'cyan',pts:l2_cyan,color:CYAN},{name:'black',pts:l2_black,color:BLK}]);
panel('line3-flow',2,2,'Stan. Dev. Line 3 Flow','ml/min',-0.3,19.5,l3_ticks,l3_labels,
  [{lo:l3_band_lo,hi:l3_band_hi,color:CYAN,op:0.95,sw:4},{lo:l3_band0_lo,hi:l3_band0_hi,color:CYAN,op:0.95,sw:4}],
  [{name:'cyan',pts:l3_cyan,color:CYAN},{name:'black',pts:l3_black,color:BLK}]);
panel('line4-flow',0,3,'Stan. Dev. Line 4 (LT) Flow','ml/min',0.185,0.737,l4_ticks,l4_labels,
  [{lo:l4_band_lo,hi:l4_band_hi,color:CYAN,op:0.95,sw:4}],
  [{name:'cyan',pts:l4_cyan,color:CYAN},{name:'black',pts:l4_black,color:BLK}]);
</script>
</body></html>
